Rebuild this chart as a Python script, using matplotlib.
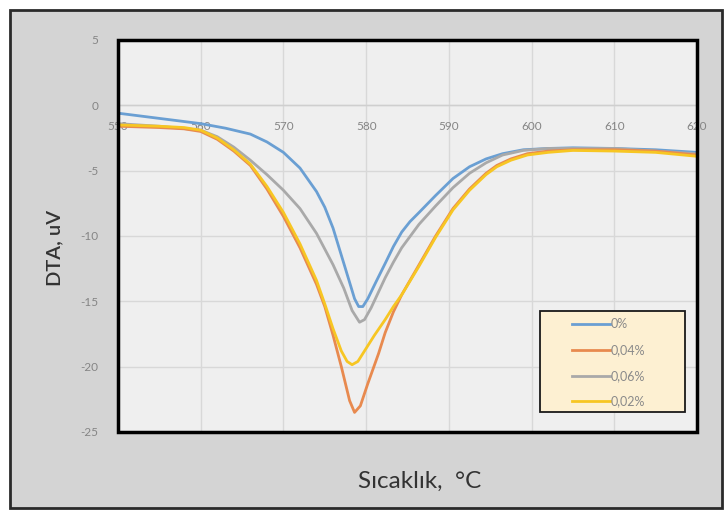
import matplotlib
matplotlib.use("Agg")
import matplotlib.pyplot as plt
from matplotlib.patches import Rectangle
from matplotlib.lines import Line2D

plt.rcParams['font.family'] = ['Lato', 'DejaVu Sans']
plt.rcParams['axes.unicode_minus'] = False

# ---- data ----
x_0 = [550, 555, 560, 563, 566, 568, 570, 572, 574, 575, 576, 577.4, 578.6, 579.1, 579.6,
       580.2, 581.2, 582.3, 583.3, 584.3, 585.3, 586.4, 588.4, 590.5, 592.5, 594.5,
       596.5, 599, 602, 605, 610, 615, 620]
y_0 = [-0.6, -1.0, -1.4, -1.75, -2.2, -2.8, -3.6, -4.8, -6.6, -7.8, -9.4, -12.3, -14.8, -15.4, -15.4,
       -14.8, -13.5, -12.1, -10.8, -9.7, -8.9, -8.2, -6.9, -5.6, -4.7, -4.1,
       -3.7, -3.4, -3.3, -3.25, -3.3, -3.4, -3.6]

x_004 = [550, 555, 558, 560, 562, 564, 566, 568, 570, 572, 574, 575, 576, 577, 578, 578.6,
         579.3, 580.2, 581.5, 582.3, 583.3, 584.3, 586.4, 588.4, 590.5, 592.5, 594.5,
         595.8, 597.5, 599.5, 602, 605, 610, 615, 620]
y_004 = [-1.6, -1.7, -1.8, -2.0, -2.6, -3.5, -4.6, -6.4, -8.5, -10.9, -13.7, -15.4, -17.6, -20.0, -22.6, -23.5,
         -23.0, -21.3, -19.0, -17.4, -15.8, -14.5, -12.2, -10.0, -7.9, -6.4, -5.2,
         -4.6, -4.1, -3.7, -3.5, -3.4, -3.4, -3.5, -3.8]

x_006 = [550, 555, 560, 562, 564, 566, 568, 570, 572, 574, 576, 577.3, 578.3, 579.2,
         579.8, 580.6, 582.3, 583.3, 584.3, 586.4, 588.4, 590.5, 592.5, 594.5, 596.5,
         599, 602, 610, 615, 620]
y_006 = [-1.4, -1.6, -1.9, -2.4, -3.2, -4.2, -5.3, -6.5, -7.9, -9.8, -12.2, -14.0, -15.7, -16.6,
         -16.4, -15.5, -13.2, -12.0, -10.9, -9.1, -7.7, -6.3, -5.2, -4.4, -3.8,
         -3.45, -3.3, -3.3, -3.5, -3.7]

x_002 = [550, 555, 558, 560, 562, 564, 566, 568, 570, 572, 574, 575, 576, 577, 577.7, 578.3,
         579, 580, 581, 582.3, 583.3, 584.3, 586.4, 588.4, 590.5, 592.5, 594.5,
         595.8, 597.5, 599.5, 602, 605, 610, 615, 620]
y_002 = [-1.5, -1.6, -1.7, -1.9, -2.5, -3.4, -4.5, -6.2, -8.2, -10.6, -13.4, -15.2, -17.1, -18.8, -19.6, -19.85,
         -19.6, -18.6, -17.6, -16.4, -15.4, -14.5, -12.3, -10.1, -8.0, -6.5, -5.3,
         -4.7, -4.2, -3.8, -3.6, -3.45, -3.5, -3.6, -3.9]

labels = ['0%', '0,04%', '0,06%', '0,02%']
colors = ['#6a9fd3', '#e88a4f', '#a9a9a9', '#f7c623']
x_ticks = [550, 560, 570, 580, 590, 600, 610, 620]
y_ticks = [5, 0, -5, -10, -15, -20, -25]

W, H = 728, 512
fig = plt.figure(figsize=(W / 100, H / 100), dpi=100)
fig.patch.set_facecolor('white')


def fx(px):
    return px / W


def fy(py):
    return 1 - py / H


# gray outer panel
panel = Rectangle((fx(10), fy(508)), 712 / W, 498 / H, transform=fig.transFigure,
                  facecolor='#d4d4d4', edgecolor='#2a2a2a', linewidth=2.0, zorder=-10)
fig.add_artist(panel)

ax = fig.add_axes([fx(118), fy(432), (697 - 118) / W, (432 - 40) / H])
ax.set_zorder(1)
ax.set_facecolor('#efefef')
ax.set_xlim(550, 620)
ax.set_ylim(-25, 5)
ax.set_xticks(x_ticks)
ax.set_yticks(y_ticks)
ax.grid(True, color='#d8d8d8', linewidth=1.0)
ax.set_axisbelow(True)

for s in ['top', 'right', 'left']:
    ax.spines[s].set_visible(False)
ax.spines['bottom'].set_position(('data', 0))
ax.spines['bottom'].set_color('#cfcfcf')
ax.spines['bottom'].set_linewidth(1.0)
ax.tick_params(axis='both', length=0, labelsize=8.5, labelcolor='#858585')
ax.tick_params(axis='x', pad=11)
ax.tick_params(axis='y', pad=14)

series = [(x_0, y_0), (x_004, y_004), (x_006, y_006), (x_002, y_002)]
order = [0, 2, 1, 3]
for i in order:
    xs, ys = series[i]
    ax.plot(xs, ys, color=colors[i], linewidth=2.0, zorder=3,
            solid_joinstyle='round', solid_capstyle='round')

# thick black plot frame
ax.add_patch(Rectangle((0, 0), 1, 1, transform=ax.transAxes, fill=False,
                       edgecolor='black', linewidth=2.5, zorder=6, clip_on=False))

# legend box (drawn by hand, in figure pixels)
fig.add_artist(Rectangle((fx(540), fy(412)), 145 / W, 101 / H, transform=fig.transFigure,
                         facecolor='#fdf0d2', edgecolor='#1a1a1a', linewidth=1.3, zorder=10))
leg_rows = [324, 350, 376, 401]
for lab, col, py in zip(labels, colors, leg_rows):
    fig.add_artist(Line2D([fx(572), fx(610)], [fy(py), fy(py)], transform=fig.transFigure,
                          color=col, linewidth=2.0, zorder=11))
    fig.text(fx(611), fy(py), lab, ha='left', va='center', fontsize=9,
             color='#8a8a8a', zorder=12)

fig.text(fx(55), fy(248), 'DTA, uV', rotation=90, ha='center', va='center',
         fontsize=14.5, color='#333333', fontweight='semibold')
fig.text(fx(420), fy(481), 'Sıcaklık,  °C', ha='center', va='center',
         fontsize=17.5, color='#333333')

fig.savefig('out.png', dpi=100, facecolor=fig.get_facecolor())
